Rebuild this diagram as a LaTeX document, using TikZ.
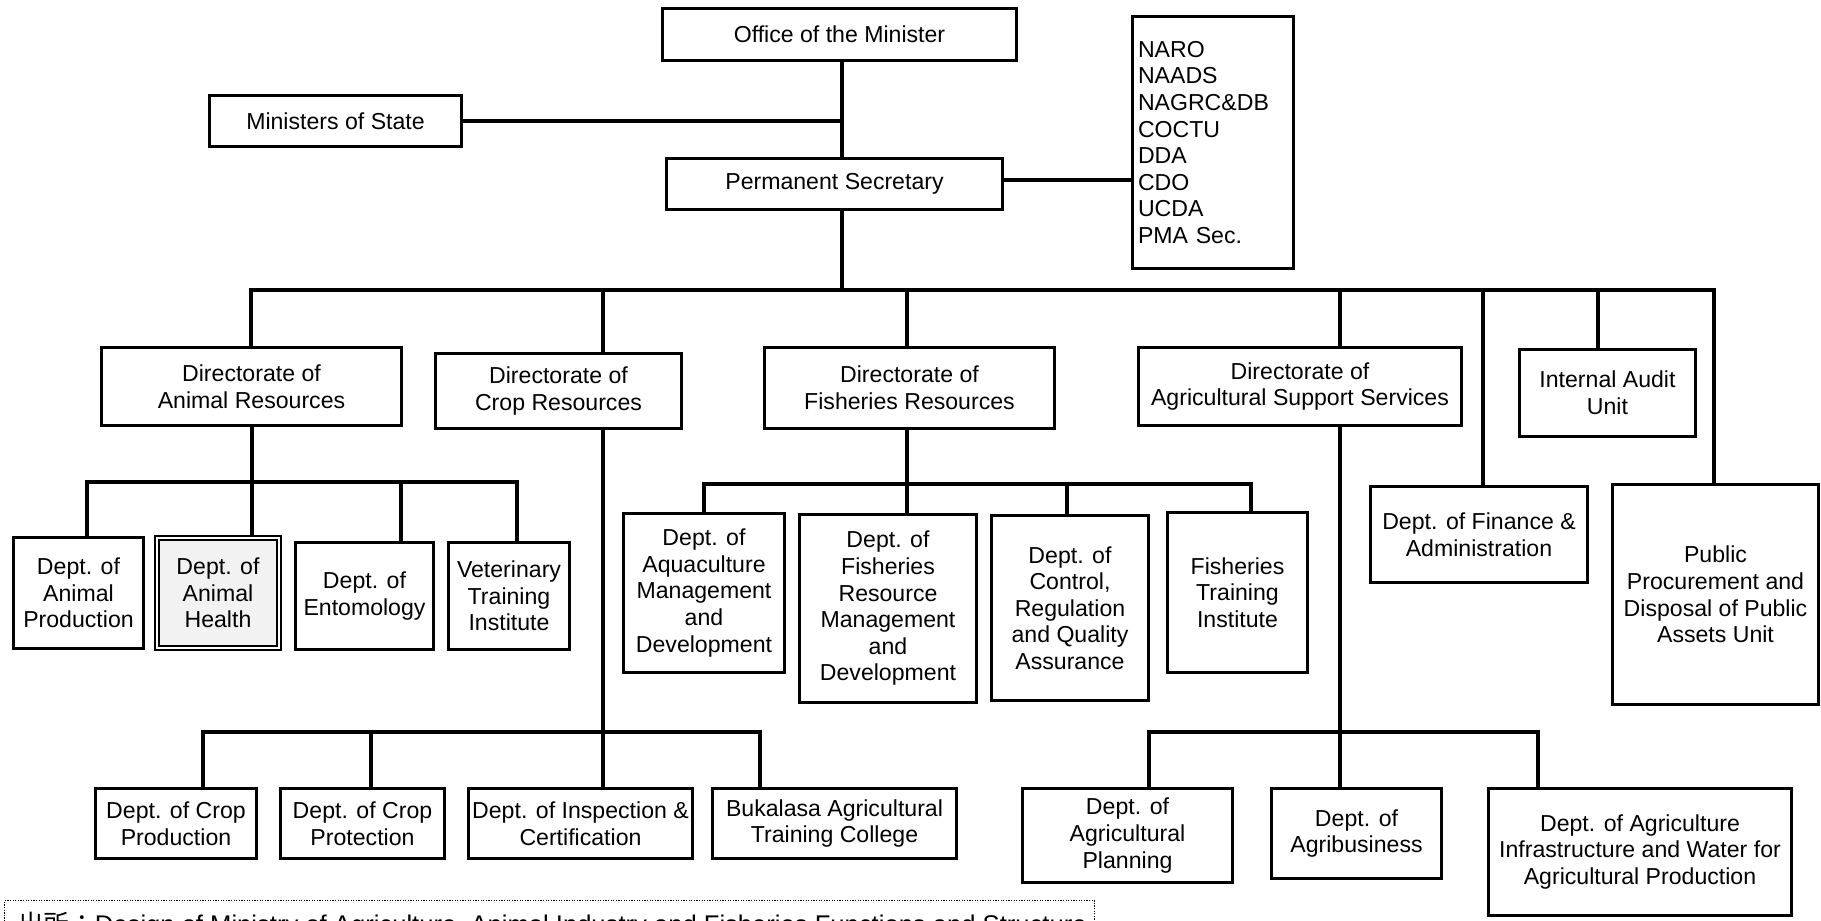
\documentclass[tikz,border=0pt]{standalone}
\usepackage{fontspec}
\setmainfont{Liberation Sans}
\newfontfamily\cjkfont{Noto Sans CJK JP}
\definecolor{shade}{HTML}{F2F2F2}
\newcommand\orgbox[6]{\node[box, minimum width=#4pt, minimum height=#5pt] (#1) at (#2,#3) {#6};}
\begin{document}
\begin{tikzpicture}[x=1pt,y=-1pt,
  box/.style={draw, line width=3.3pt, align=center, inner sep=0pt,
    font=\fontsize{23.1pt}{26.6pt}\selectfont},
  conn/.style={line width=3.3pt},
  capframe/.style={draw, line width=1.3pt, dash pattern=on 1.3pt off 1.3pt},
]
\useasboundingbox (0,0) rectangle (1821,921);
\clip (0,0) rectangle (1821,921);

% top level
\orgbox{off}{839.5}{34.5}{354}{52}{Office of the Minister}
\orgbox{mos}{335.5}{121}{252}{51}{Ministers of State}
\orgbox{ps}{834.5}{184}{336}{51}{Permanent Secretary}
\node[box, align=left, text width=150pt, inner xsep=5.5pt, minimum height=252pt] (naro) at (1213,142.5)
  {NARO\\NAADS\\NAGRC\&DB\\COCTU\\DDA\\CDO\\UCDA\\PMA Sec.};

% directorates and units
\orgbox{dA}{251.5}{386.5}{300}{78}{Directorate of\\Animal Resources}
\orgbox{dC}{558.5}{391}{246}{75}{Directorate of\\Crop Resources}
\orgbox{dF}{909.5}{388}{290}{81}{Directorate of\\Fisheries Resources}
\orgbox{dS}{1300}{386.5}{323}{78}{Directorate of\\Agricultural Support Services}
\orgbox{aud}{1607.5}{393}{176}{87}{Internal Audit\\Unit}
\orgbox{fin}{1479}{534.5}{217}{96}{Dept. of Finance \&\\Administration}
\orgbox{pp}{1715.5}{594.5}{206}{220}{Public\\Procurement and\\Disposal of Public\\Assets Unit}

% animal resources
\orgbox{aP}{78.5}{593}{130}{111}{Dept. of\\Animal\\Production}
\node[box, line width=1.8pt, double, double distance=2.4pt, fill=shade,
  minimum width=122pt, minimum height=110pt] (aH) at (218,593) {Dept. of\\Animal\\Health};
\orgbox{aE}{364.5}{596}{138}{107}{Dept. of\\Entomology}
\orgbox{aV}{509}{596}{121}{107}{Veterinary\\Training\\Institute}

% fisheries resources
\orgbox{fA}{704}{593}{161}{159}{Dept. of\\Aquaculture\\Management\\and\\Development}
\orgbox{fR}{888}{608.5}{177}{188}{Dept. of\\Fisheries\\Resource\\Management\\and\\Development}
\orgbox{fC}{1070}{608}{157}{185}{Dept. of\\Control,\\Regulation\\and Quality\\Assurance}
\orgbox{fT}{1237.5}{592.5}{140}{160}{Fisheries\\Training\\Institute}

% crop resources
\orgbox{cP}{176}{823.5}{161}{70}{Dept. of Crop\\Production}
\orgbox{cR}{362.5}{823.5}{164}{70}{Dept. of Crop\\Protection}
\orgbox{cI}{580.5}{823.5}{224}{70}{Dept. of Inspection \&\\Certification}
\orgbox{cB}{834.5}{823.5}{244}{70}{Bukalasa Agricultural\\Training College}

% agricultural support services
\orgbox{sP}{1127.5}{835.5}{210}{94}{Dept. of\\Agricultural\\Planning}
\orgbox{sB}{1356.5}{833.5}{170}{90}{Dept. of\\Agribusiness}
\orgbox{sI}{1640}{852}{303}{127}{Dept. of Agriculture\\Infrastructure and Water for\\Agricultural Production}

% junction points
\coordinate (spine) at (842,120);
\coordinate (naroL) at (1131,180);
\coordinate (mainL) at (251,290);
\coordinate (mainR) at (1714,290);
\coordinate (jPS) at (842,290);
\coordinate (jC) at (603,290);
\coordinate (jF) at (907,290);
\coordinate (jS) at (1340,290);
\coordinate (jFin) at (1483,290);
\coordinate (jAud) at (1598,290);
\coordinate (aL) at (87,482);
\coordinate (aM) at (252,482);
\coordinate (aE1) at (401,482);
\coordinate (aR) at (517,482);
\coordinate (fL) at (704,484);
\coordinate (fM) at (907,484);
\coordinate (fC1) at (1067,484);
\coordinate (fRr) at (1251,484);
\coordinate (cL) at (203,732);
\coordinate (cM) at (603,732);
\coordinate (cP1) at (371,732);
\coordinate (cRr) at (760,732);
\coordinate (sL) at (1149,732);
\coordinate (sM) at (1340,732);
\coordinate (sRr) at (1538,732);

% connectors
\draw[conn] (off.south -| spine) -- (ps.north -| spine);
\draw[conn] (mos.east) -- (mos.east -| spine);
\draw[conn] (ps.east |- naroL) -- (naro.west |- naroL);
\draw[conn] (ps.south -| spine) -- (jPS);
\draw[conn] (dA.north -| mainL) -- (mainL) -- (mainR) -- (pp.north -| mainR);
\draw[conn] (jC) -- (dC.north -| jC);
\draw[conn] (jF) -- (dF.north -| jF);
\draw[conn] (jS) -- (dS.north -| jS);
\draw[conn] (jFin) -- (fin.north -| jFin);
\draw[conn] (jAud) -- (aud.north -| jAud);

\draw[conn] (dA.south -| aM) -- (aH.north -| aM);
\draw[conn] (aP.north -| aL) -- (aL) -- (aR) -- (aV.north -| aR);
\draw[conn] (aE1) -- (aE.north -| aE1);

\draw[conn] (dF.south -| fM) -- (fR.north -| fM);
\draw[conn] (fA.north -| fL) -- (fL) -- (fRr) -- (fT.north -| fRr);
\draw[conn] (fC1) -- (fC.north -| fC1);

\draw[conn] (dC.south -| cM) -- (cI.north -| cM);
\draw[conn] (cP.north -| cL) -- (cL) -- (cRr) -- (cB.north -| cRr);
\draw[conn] (cP1) -- (cR.north -| cP1);

\draw[conn] (dS.south -| sM) -- (sB.north -| sM);
\draw[conn] (sP.north -| sL) -- (sL) -- (sRr) -- (sI.north -| sRr);

% source note
\node[capframe, anchor=north west, minimum width=1090pt, minimum height=60pt, inner sep=0pt] (src) at (4,900) {};
\node[anchor=base west, inner sep=0pt, font=\fontsize{25.6pt}{30pt}\selectfont] (srctext) at (18,933)
  {{\cjkfont 出所：}Design of Ministry of Agriculture, Animal Industry and Fisheries Functions and Structure};
\end{tikzpicture}
\end{document}
